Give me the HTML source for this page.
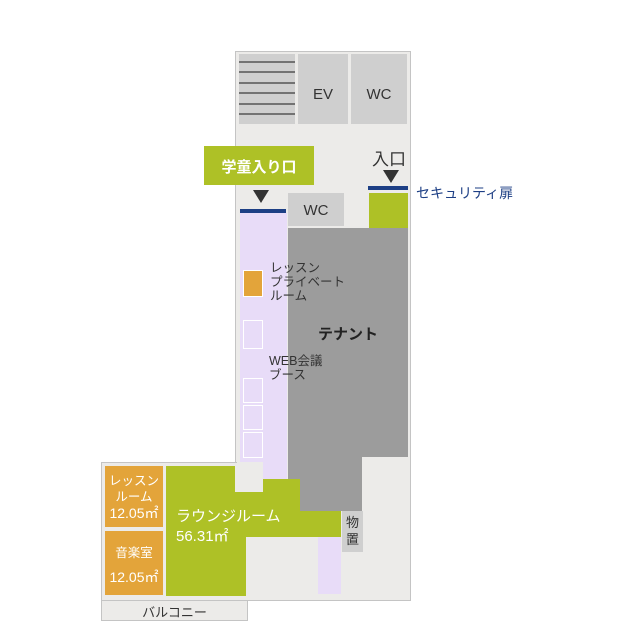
<!DOCTYPE html>
<html><head><meta charset="utf-8"><style>
body{margin:0;width:625px;height:625px;background:#fff;position:relative;overflow:hidden;font-family:"Liberation Sans","Noto Sans CJK JP",sans-serif;}
div{position:absolute;box-sizing:border-box;}
.t{white-space:nowrap;}
.tri{width:0;height:0;border-left:8px solid transparent;border-right:8px solid transparent;border-top:13px solid #333;}
</style></head><body>
<div style="left:235px;top:51px;width:176px;height:550px;background:#ecebe9;border:1px solid #c4c4c4;"></div>
<div style="left:101px;top:462px;width:136px;height:139px;background:#ecebe9;border:1px solid #c4c4c4;border-right:none;"></div>
<div style="left:101px;top:600px;width:147px;height:21px;background:#ecebe9;border:1px solid #c4c4c4;"></div>
<div class="t" style="left:101px;top:602px;width:147px;text-align:center;font-size:13px;color:#333;">バルコニー</div>
<div style="left:239px;top:54px;width:56px;height:70px;background:#cfcfcf;"></div>
<svg style="position:absolute;left:239px;top:54px" width="56" height="70"><g stroke="#555" stroke-width="1.5">
<line x1="0" y1="8" x2="56" y2="8"/><line x1="0" y1="18" x2="56" y2="18"/><line x1="0" y1="29" x2="56" y2="29"/><line x1="0" y1="39" x2="56" y2="39"/><line x1="0" y1="50" x2="56" y2="50"/><line x1="0" y1="60" x2="56" y2="60"/></g></svg>
<div style="left:298px;top:54px;width:50px;height:70px;background:#cfcfcf;"></div>
<div class="t" style="left:298px;top:86px;width:50px;text-align:center;font-size:15px;color:#333;">EV</div>
<div style="left:351px;top:54px;width:56px;height:70px;background:#cfcfcf;"></div>
<div class="t" style="left:351px;top:86px;width:56px;text-align:center;font-size:15px;color:#333;">WC</div>
<div style="left:204px;top:146px;width:110px;height:39px;background:#aec126;"></div>
<div class="t" style="left:204px;top:156px;width:110px;text-align:center;font-size:15px;font-weight:bold;color:#fff;">学童入り口</div>
<div class="tri" style="left:253px;top:190px;"></div>
<div style="left:240px;top:209px;width:46px;height:4px;background:#1d3f85;"></div>
<div style="left:288px;top:193px;width:56px;height:33px;background:#cfcfcf;"></div>
<div class="t" style="left:288px;top:202px;width:56px;text-align:center;font-size:15px;color:#333;">WC</div>
<div class="t" style="left:372px;top:145px;font-size:17px;color:#333;">入口</div>
<div class="tri" style="left:383px;top:170px;"></div>
<div style="left:368px;top:186px;width:40px;height:4px;background:#1d3f85;"></div>
<div style="left:369px;top:193px;width:39px;height:35px;background:#aec126;"></div>
<div class="t" style="left:416px;top:183px;font-size:14px;color:#1d3f85;">セキュリティ扉</div>
<div style="left:240px;top:213px;width:47px;height:249px;background:#e8dcf8;"></div>
<div style="left:263px;top:462px;width:24px;height:18px;background:#e8dcf8;"></div>
<div style="left:288px;top:228px;width:120px;height:229px;background:#9c9c9c;"></div>
<div style="left:288px;top:457px;width:74px;height:22px;background:#9c9c9c;"></div>
<div style="left:300px;top:479px;width:62px;height:32px;background:#9c9c9c;"></div>
<div class="t" style="left:318px;top:323px;font-size:15px;font-weight:bold;color:#222;">テナント</div>
<div style="left:243px;top:270px;width:20px;height:27px;background:#e3a43a;border:1px solid #fff;"></div>
<div style="left:243px;top:320px;width:20px;height:29px;border:1px solid #fff;"></div>
<div style="left:243px;top:378px;width:20px;height:25px;border:1px solid #fff;"></div>
<div style="left:243px;top:405px;width:20px;height:25px;border:1px solid #fff;"></div>
<div style="left:243px;top:432px;width:20px;height:26px;border:1px solid #fff;"></div>
<div class="t" style="left:270px;top:261px;font-size:12.5px;line-height:14px;color:#333;">レッスン<br>プライベート<br>ルーム</div>
<div class="t" style="left:269px;top:354px;font-size:12.5px;line-height:14px;color:#333;">WEB会議<br>ブース</div>
<div style="left:166px;top:466px;width:69px;height:130px;background:#aec126;"></div>
<div style="left:166px;top:492px;width:97px;height:45px;background:#aec126;"></div>
<div style="left:263px;top:479px;width:37px;height:58px;background:#aec126;"></div>
<div style="left:300px;top:511px;width:41px;height:26px;background:#aec126;"></div>
<div style="left:166px;top:537px;width:80px;height:59px;background:#aec126;"></div>
<div class="t" style="left:176px;top:507px;font-size:15px;line-height:20px;color:#fff;">ラウンジルーム<br>56.31㎡</div>
<div style="left:318px;top:537px;width:23px;height:57px;background:#e8dcf8;"></div>
<div style="left:342px;top:511px;width:21px;height:41px;background:#cfcfcf;"></div>
<div class="t" style="left:342px;top:514px;width:21px;text-align:center;font-size:13px;line-height:17px;color:#333;">物<br>置</div>
<div style="left:105px;top:466px;width:58px;height:61px;background:#e3a43a;"></div>
<div class="t" style="left:105px;top:473px;width:58px;text-align:center;font-size:12.5px;line-height:16px;color:#fff;">レッスン<br>ルーム<br><span style="font-size:14px">12.05㎡</span></div>
<div style="left:105px;top:531px;width:58px;height:64px;background:#e3a43a;"></div>
<div class="t" style="left:105px;top:542px;width:58px;text-align:center;font-size:12.5px;color:#fff;">音楽室</div>
<div class="t" style="left:105px;top:567px;width:58px;text-align:center;font-size:14px;color:#fff;">12.05㎡</div>
</body></html>
